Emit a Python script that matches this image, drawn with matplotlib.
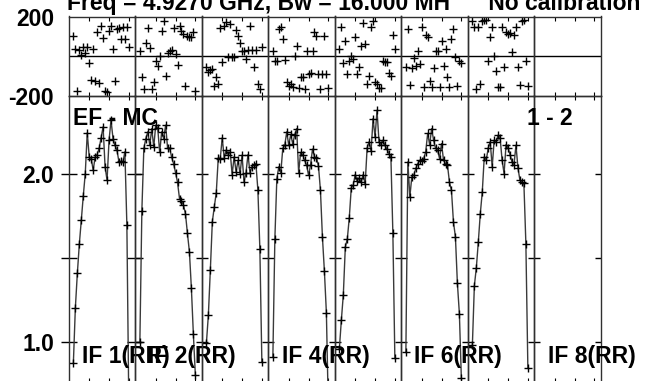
import numpy as np
import matplotlib
matplotlib.use('Agg')
import matplotlib.pyplot as plt
from matplotlib.ticker import FixedLocator, FixedFormatter, NullFormatter

plt.rcParams['font.family'] = ['Liberation Sans', 'DejaVu Sans']
plt.rcParams['font.weight'] = 'bold'
plt.rcParams['axes.unicode_minus'] = False

# channel numbers used in every IF panel
channels = np.arange(2, 31)

# phase (degrees) per IF
phase_if1 = [100, 37, -172, 32, 8, 45, 15, 45, -35, -118, 37, -122, 123, -133, 150,
             92, -172, -177, 125, 150, 37, -122, 137, 142, 87, 148, 87, 145, 45]
phase_if2 = [28, -105, -163, 65, 142, 42, -163, -130, -22, -47, 3, 128, 175, -97, 15,
             25, 32, 140, 12, -42, 153, 128, 112, -147, 103, 95, 98, 120, -172]
phase_if3 = [-55, -80, -68, -63, -147, -105, -138, 142, -30, 153, 170, -5, 162, -5, -2,
             132, 103, 65, 28, 28, -13, 32, 153, 32, -55, 32, -138, -163, 45]
phase_if4 = [28, -22, -22, 137, 145, 87, -18, -130, -147, -138, -152, 3, 50, -158, -105,
             -102, -163, 28, -88, -85, 25, 120, 103, -88, -163, -88, 103, -88, -158]
phase_if5 = [37, 145, -35, 75, -88, -22, 3, -13, 95, -88, -52, 53, 165, 62, -138,
             -97, 145, 175, -130, -138, -158, -158, -22, -30, -30, -85, -97, 108, 37]
phase_if6 = [-55, 137, -142, -58, -8, -47, 28, -38, 148, -152, 108, 98, -122, -152, -58,
             25, 28, -152, 75, -47, 37, -105, -152, 87, 137, -5, -147, -22, -35]
phase_if7 = [178, 145, -163, 145, -138, 178, 182, 182, -22, 98, 145, 3, -75, -152, -152,
             145, -55, 120, 112, 115, 20, 108, 148, -52, -143, 178, 182, -22, -147]

# amplitude per IF
amp_if1 = [0.875, 1.202, 1.406, 1.580, 1.723, 1.867, 2.000, 2.242, 2.099, 2.089, 2.020,
           2.099, 2.113, 2.149, 2.214, 2.277, 2.040, 1.960, 2.198, 2.317, 2.208, 2.168,
           2.139, 2.069, 2.073, 2.069, 2.129, 1.693, 0.60]
amp_if2 = [1.0, 1.778, 2.149, 2.208, 2.248, 2.168, 2.267, 2.158, 2.287, 2.271, 2.125,
           2.248, 2.208, 2.287, 2.149, 2.152, 2.099, 2.059, 2.006, 1.947, 1.851, 1.836,
           1.812, 1.762, 1.644, 1.535, 1.317, 1.044, 0.802]
amp_if3 = [0.99, 1.158, 1.426, 1.713, 1.802, 1.887, 2.093, 2.089, 2.212, 2.093, 2.139,
           2.113, 2.129, 1.994, 2.099, 2.010, 2.079, 2.0, 2.109, 1.950, 2.006, 2.113,
           2.006, 2.040, 2.053, 2.059, 1.901, 1.550, 0.881]
amp_if4 = [0.911, 1.610, 1.970, 2.040, 2.006, 2.149, 2.168, 2.248, 2.168, 2.232, 2.178,
           2.228, 2.267, 2.006, 2.125, 2.113, 2.079, 2.050, 1.990, 2.050, 2.145, 2.099,
           2.093, 2.046, 1.901, 1.624, 1.420, 1.174, 0.60]
amp_if5 = [0.960, 1.129, 1.281, 1.564, 1.610, 1.737, 1.915, 1.931, 1.994, 1.954, 1.974,
           1.947, 1.994, 1.935, 2.152, 2.188, 2.133, 2.327, 2.218, 2.376, 2.188, 2.172,
           2.198, 2.168, 2.145, 2.119, 2.099, 1.644, 0.901]
amp_if6 = [0.937, 2.069, 1.861, 1.980, 1.990, 2.030, 2.059, 2.079, 2.073, 2.089, 2.129,
           2.238, 2.172, 2.267, 2.198, 2.149, 2.139, 2.089, 2.178, 2.079, 2.059, 2.050,
           1.947, 1.901, 1.713, 1.624, 1.347, 1.168, 0.782]
amp_if7 = [0.980, 1.333, 1.440, 1.594, 1.762, 1.891, 2.099, 2.079, 2.152, 2.188, 2.040,
           2.198, 2.188, 2.228, 2.212, 2.079, 2.0, 2.172, 2.152, 2.113, 2.069, 2.053,
           2.168, 2.034, 1.960, 1.947, 1.941, 1.584, 0.846]

phases = [phase_if1, phase_if2, phase_if3, phase_if4, phase_if5, phase_if6, phase_if7, None]
amps = [amp_if1, amp_if2, amp_if3, amp_if4, amp_if5, amp_if6, amp_if7, None]
if_labels = ['IF 1(RR)', 'IF 2(RR)', None, 'IF 4(RR)', None, 'IF 6(RR)', None, 'IF 8(RR)']

title = 'Freq = 4.9270 GHz, Bw = 16.000 MH      No calibration'

W, H = 645, 381
fig = plt.figure(figsize=(W / 100, H / 100), dpi=100)

def px_box(x0, y0, x1, y1):
    # pixel box (top-left origin) -> figure fraction
    return [x0 / W, 1 - y1 / H, (x1 - x0) / W, (y1 - y0) / H]

left, pw = 68.7, 66.5
fs = 16.5
frame_col = '#303030'

for i in range(8):
    xl = left + i * pw
    axp = fig.add_axes(px_box(xl, 16.5, xl + pw, 96.3))
    axa = fig.add_axes(px_box(xl, 96.3, xl + pw, 382))

    for ax in (axp, axa):
        ax.set_xlim(-0.36, 33.2)
        ax.xaxis.set_major_locator(FixedLocator([10, 20, 30]))
        ax.xaxis.set_major_formatter(NullFormatter())
        ax.tick_params(axis='x', direction='in', top=True, bottom=True,
                       length=3, width=0.8, color='black')
        for s in ax.spines.values():
            s.set_color(frame_col)
            s.set_linewidth(1.0)
        ax.set_facecolor('none')

    # phase panel
    axp.set_ylim(-200, 200)
    axp.axhline(0, color='black', lw=1.0)
    axp.yaxis.set_major_locator(FixedLocator([-200, 200]))
    axp.tick_params(axis='y', length=0, left=True, right=True)
    if phases[i] is not None:
        axp.plot(channels, phases[i], linestyle='none', marker='+',
                 markersize=6, markeredgewidth=1.0, color='black', clip_on=True)

    # amplitude panel
    axa.set_ylim(0.761, 2.459)
    axa.yaxis.set_major_locator(FixedLocator([1.0, 1.5, 2.0, 2.5]))
    if amps[i] is not None:
        axa.plot(channels, amps[i], color='#3a3a3a', lw=1.0, marker='+',
                 markersize=6, markeredgewidth=1.0, markeredgecolor='black')

    if i == 0:
        axp.yaxis.set_major_formatter(FixedFormatter(['-200', '200']))
        axp.tick_params(axis='y', pad=10.5, labelsize=fs)
        axa.yaxis.set_major_formatter(FixedFormatter(['1.0', '', '2.0', '']))
        axa.tick_params(axis='y', direction='inout', left=True, right=True,
                        length=11, width=1.0, pad=5.0, labelsize=fs)
    else:
        axp.yaxis.set_major_formatter(NullFormatter())
        axa.yaxis.set_major_formatter(NullFormatter())
        axa.tick_params(axis='y', direction='in', left=True, right=True,
                        length=4.5, width=1.0)
    for lab in axp.get_yticklabels() + axa.get_yticklabels():
        lab.set_fontweight('bold')

    if if_labels[i]:
        axa.text(13.3 / pw, 1 - (363.5 - 96.3) / (382 - 96.3), if_labels[i],
                 transform=axa.transAxes, fontsize=fs, fontweight='bold',
                 ha='left', va='baseline')

fig.text(67 / W, 1 - 10 / H, title, fontsize=fs, fontweight='bold',
         ha='left', va='baseline')
fig.text(73 / W, 1 - 125 / H, 'EF - MC', fontsize=fs, fontweight='bold',
         ha='left', va='baseline')
fig.text(573 / W, 1 - 125 / H, '1 - 2', fontsize=fs, fontweight='bold',
         ha='right', va='baseline')

fig.savefig('out.png', dpi=100)
